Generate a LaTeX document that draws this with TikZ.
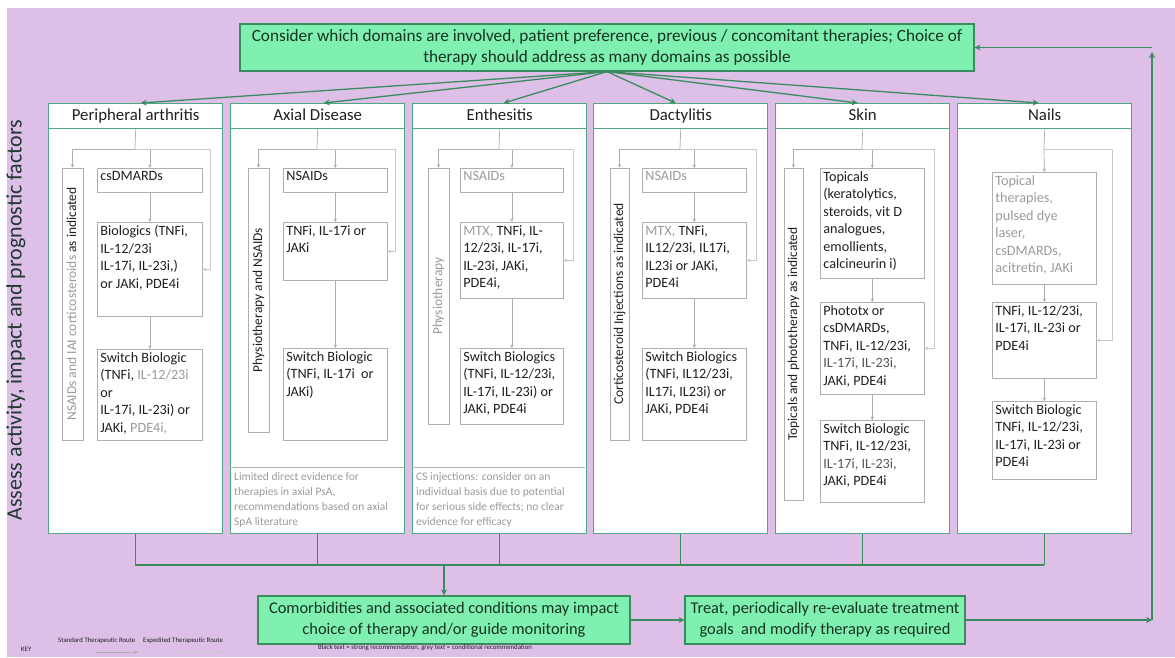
\documentclass[tikz,border=0pt]{standalone}
\usepackage{fontspec}
\setmainfont{Carlito}
\usetikzlibrary{arrows.meta,calc}
\definecolor{bgp}{RGB}{221,191,232}
\definecolor{gfill}{RGB}{128,240,176}
\definecolor{gdraw}{RGB}{58,140,96}
\definecolor{gtext}{RGB}{22,52,34}
\definecolor{colg}{RGB}{78,168,132}
\definecolor{lgray}{RGB}{175,175,175}
\definecolor{xgray}{RGB}{200,200,200}
\definecolor{ggray}{RGB}{155,155,155}
\definecolor{mgray}{RGB}{85,85,85}
\definecolor{btext}{RGB}{32,32,32}
\definecolor{atext}{RGB}{34,56,50}
\newcommand\gr[1]{{\color{ggray}#1}}
\newcommand\mg[1]{{\color{mgray}#1}}
\newcommand\fs[2]{\fontsize{#1}{#2}\selectfont}
\newcommand\bx[6]{\node[tbox] (#1) at (#2,#3) {\parbox[c][\dimexpr #5pt-6pt\relax][t]{\dimexpr #4pt-6pt\relax}{\raggedright #6}};}
\begin{document}
\begin{tikzpicture}[x=1pt,y=-1pt,
  gbox/.style={draw=gdraw, fill=gfill, line width=1.2pt, text=gtext, align=center, inner sep=0pt, font=\fs{16.4}{21}},
  colbox/.style={draw=colg, fill=white, line width=1.4pt, anchor=north west, inner sep=0pt, minimum width=174pt, minimum height=430pt},
  hdr/.style={draw=colg, line width=1pt, anchor=north, minimum width=174pt, minimum height=25pt, inner sep=0pt, text height=11.5pt, text depth=3.5pt, font=\fs{16.8}{19}, text=btext},
  tbox/.style={draw=lgray, line width=0.7pt, fill=white, anchor=north west, inner sep=3pt, text=btext, font=\fs{14.2}{17.5}},
  sbar/.style={draw=lgray, line width=0.7pt, fill=white, rotate=90, inner sep=0pt, text height=10pt, text depth=3pt, font=\fs{13.5}{16}, text=btext},
  gline/.style={draw=lgray, line width=0.7pt},
  garr/.style={gline, -{Stealth[length=3.5pt,width=3.5pt]}},
  xarr/.style={draw=xgray, line width=0.7pt, -{Stealth[length=3.5pt,width=3.5pt]}},
  tarr/.style={draw=gdraw, line width=1.3pt, -{Stealth[length=6pt,width=6pt]}},
  bline/.style={draw=gdraw, line width=1.3pt},
  note/.style={anchor=north west, inner sep=0pt, align=left, text=ggray, font=\fs{11.5}{15}},
  keyt/.style={anchor=west, inner sep=0pt, text=btext, font=\fs{6.8}{8}}
]
\useasboundingbox (0,0) rectangle (1175,657);
\fill[white] (0,0) rectangle (1175,657);
\fill[bgp] (7,8) rectangle (1175,657);

% left label
\node[rotate=90, text=atext, font=\fs{22}{26}] (assess) at (16,320) {Assess activity, impact and prognostic factors};

% top box
\node[gbox, minimum width=734pt, minimum height=47pt, font=\fs{17.2}{21.5}] (top) at (607,47.5)
  {Consider which domains are involved, patient preference, previous / concomitant therapies; Choice of\\therapy should address as many domains as possible};

% columns
\foreach \k/\L in {1/48,2/230,3/412,4/593,5/775,6/957}{
  \node[colbox] (col\k) at (\L,103) {};
}
\node[hdr] (h1) at (col1.north) {Peripheral arthritis};
\node[hdr] (h2) at (col2.north) {Axial Disease};
\node[hdr] (h3) at (col3.north) {Enthesitis};
\node[hdr] (h4) at (col4.north) {Dactylitis};
\node[hdr] (h5) at (col5.north) {Skin};
\node[hdr] (h6) at (col6.north) {Nails};

% arrows from top box
\draw[tarr] (top.south) -- ([xshift=5pt]h1.north);
\draw[tarr] (top.south) -- ([xshift=6pt]h2.north);
\draw[tarr] (top.south) -- ([xshift=4pt]h3.north);
\draw[tarr] (top.south) -- ([xshift=-5pt]h4.north);
\draw[tarr] (top.south) -- ([xshift=-5pt]h5.north);
\draw[tarr] (top.south) -- ([xshift=-6pt]h6.north);

% ---- column 1
\node[sbar, minimum width=272pt, minimum height=21pt] (s1) at (72.5,304) {\gr{NSAIDs and IAI corticosteroids} as indicated};
\bx{b11}{97}{168}{105}{24}{csDMARDs}
\bx{b12}{97}{222}{105}{94}{Biologics (TNFi,\\IL-12/23i\\IL-17i, IL-23i,)\\or JAKi, PDE4i}
\bx{b13}{97}{349}{105}{91}{Switch Biologic\\(TNFi, \gr{IL-12/23i}\\or\\IL-17i, IL-23i) or\\JAKi, \gr{PDE4i,}}
\coordinate (j1) at (135,149);
\coordinate (r1) at (210,149);
\draw[gline] (h1.south) -- (j1);
\draw[garr] (j1) -| (s1.east);
\draw[garr] (j1) -| (b11.north);
\draw[xarr] (j1) -- (r1) |- (b12.east);
\draw[garr] (b11.south) -- (b12.north);
\draw[garr] (b12.south) -- (b13.north);

% ---- column 2
\node[sbar, minimum width=264pt, minimum height=21pt] (s2) at (258.5,300) {Physiotherapy and NSAIDs};
\bx{b21}{283}{168}{104}{24}{NSAIDs}
\bx{b22}{283}{222}{104}{58}{TNFi, IL-17i or\\JAKi}
\bx{b23}{283}{348}{104}{92}{Switch Biologic\\(TNFi, IL-17i\ \ or\\JAKi)}
\coordinate (j2) at (317,149);
\coordinate (r2) at (395,149);
\draw[gline] (h2.south) -- (j2);
\draw[garr] (j2) -| (s2.east);
\draw[garr] (j2) -| (b21.north);
\draw[xarr] (j2) -- (r2) |- (b22.east);
\draw[garr] (b21.south) -- (b22.north);
\draw[garr] (b22.south) -- (b23.north);
\draw[gline] (230,467) -- (404,467);
\node[note] (n2) at (234,472) {Limited direct evidence for\\therapies in axial PsA,\\recommendations based on axial\\SpA literature};

% ---- column 3
\node[sbar, minimum width=256pt, minimum height=21pt] (s3) at (438.5,296) {\gr{Physiotherapy}};
\bx{b31}{460}{168}{103}{24}{\gr{NSAIDs}}
\bx{b32}{460}{222}{103}{76}{\gr{MTX,} TNFi, IL-\\12/23i, IL-17i,\\IL-23i, JAKi,\\PDE4i,}
\bx{b33}{460}{348}{103}{76}{Switch Biologics\\(TNFi, IL-12/23i,\\IL-17i, IL-23i) or\\JAKi, PDE4i}
\coordinate (j3) at (499,149);
\coordinate (r3) at (573,149);
\draw[gline] (h3.south) -- (j3);
\draw[garr] (j3) -| (s3.east);
\draw[garr] (j3) -| (b31.north);
\draw[xarr] (j3) -- (r3) |- (b32.east);
\draw[garr] (b31.south) -- (b32.north);
\draw[garr] (b32.south) -- (b33.north);
\draw[gline] (412,467) -- (585,467);
\node[note] (n3) at (416,472) {CS injections: consider on an\\individual basis due to potential\\for serious side effects; no clear\\evidence for efficacy};

% ---- column 4
\node[sbar, minimum width=272pt, minimum height=19pt] (s4) at (619.5,304) {Corticosteroid Injections as indicated};
\bx{b41}{642}{168}{104}{24}{\gr{NSAIDs}}
\bx{b42}{642}{222}{104}{76}{\gr{MTX,} TNFi,\\IL12/23i, IL17i,\\IL23i or JAKi,\\PDE4i}
\bx{b43}{642}{348}{104}{92}{Switch Biologics\\(TNFi, IL12/23i,\\IL17i, IL23i) or\\JAKi, PDE4i}
\coordinate (j4) at (680,149);
\coordinate (r4) at (756,149);
\draw[gline] (h4.south) -- (j4);
\draw[garr] (j4) -| (s4.east);
\draw[garr] (j4) -| (b41.north);
\draw[xarr] (j4) -- (r4) |- (b42.east);
\draw[garr] (b41.south) -- (b42.north);
\draw[garr] (b42.south) -- (b43.north);

% ---- column 5
\node[sbar, minimum width=332pt, minimum height=19pt] (s5) at (793.5,334) {Topicals and phototherapy as indicated};
\bx{b51}{820}{168}{104}{110}{Topicals\\(keratolytics,\\steroids, vit D\\analogues,\\emollients,\\calcineurin i)}
\bx{b52}{820}{302}{104}{92}{Phototx or\\csDMARDs,\\TNFi, IL-12/23i,\\\mg{IL-17i, IL-23i,}\\JAKi, PDE4i}
\bx{b53}{820}{420}{104}{82}{Switch Biologic\\TNFi, IL-12/23i,\\\mg{IL-17i, IL-23i,}\\JAKi, PDE4i}
\coordinate (j5) at (862,149);
\coordinate (r5) at (934,149);
\draw[gline] (h5.south) -- (j5);
\draw[garr] (j5) -| (s5.east);
\draw[garr] (j5) -| (b51.north);
\draw[xarr] (j5) -- (r5) |- (b52.east);
\draw[garr] (b51.south) -- (b52.north);
\draw[garr] (b52.south) -- (b53.north);

% ---- column 6
\bx{b61}{992}{172}{104}{112}{\color{ggray}Topical\\therapies,\\pulsed dye\\laser,\\csDMARDs,\\acitretin, JAKi}
\bx{b62}{992}{302}{104}{76}{TNFi, IL-12/23i,\\IL-17i, IL-23i or\\PDE4i}
\bx{b63}{992}{401}{104}{78}{Switch Biologic\\TNFi, IL-12/23i,\\IL-17i, IL-23i or\\PDE4i}
\coordinate (j6) at (1044,149);
\coordinate (r6) at (1112,149);
\draw[gline] (h6.south) -- (j6);
\draw[garr] (j6) -- (b61.north);
\draw[xarr] (j6) -- (r6) |- (b62.east);
\draw[garr] (b61.south) -- (b62.north);
\draw[garr] (b62.south) -- (b63.north);

% ---- bottom
\coordinate (busL) at (135,565);
\coordinate (busR) at (1044,565);
\foreach \k in {1,...,6}{ \draw[bline] (col\k.south) -- (col\k.south |- busL); }
\draw[bline] (busL) -- (busR);
\node[gbox, minimum width=372pt, minimum height=48pt] (comorb) at (444,620)
  {Comorbidities and associated conditions may impact\\choice of therapy and/or guide monitoring};
\node[gbox, minimum width=280pt, minimum height=48pt] (treat) at (825,620)
  {Treat, periodically re-evaluate treatment\\goals\ \ and modify therapy as required};
\draw[tarr] (comorb.north |- busL) -- (comorb.north);
\draw[tarr] (comorb.east) -- (treat.west);
\coordinate (loopB) at (1152,620);
\coordinate (loopT) at (1152,52);
\coordinate (loopH) at (1152,47.5);
\draw[tarr] (treat.east) -- (loopB);
\draw[tarr] (loopB) -- (loopT);
\draw[tarr] (loopH) -- (top.east);

% ---- key
\node[keyt] (key) at (21,649) {KEY};
\node[keyt] (kstd) at (58,641) {Standard Therapeutic Route};
\node[keyt] (kexp) at (143,641) {Expedited Therapeutic Route};
\coordinate (ks1) at (95,652); \coordinate (ks2) at (138,652);
\coordinate (ke1) at (178,652); \coordinate (ke2) at (224,652);
\draw[garr] (ks1) -- (ks2);
\draw[xarr] (ke1) -- (ke2);
\node[keyt] (kbw) at (318,648) {Black text = strong recommendation, grey text = conditional recommendation};
\end{tikzpicture}
\end{document}
